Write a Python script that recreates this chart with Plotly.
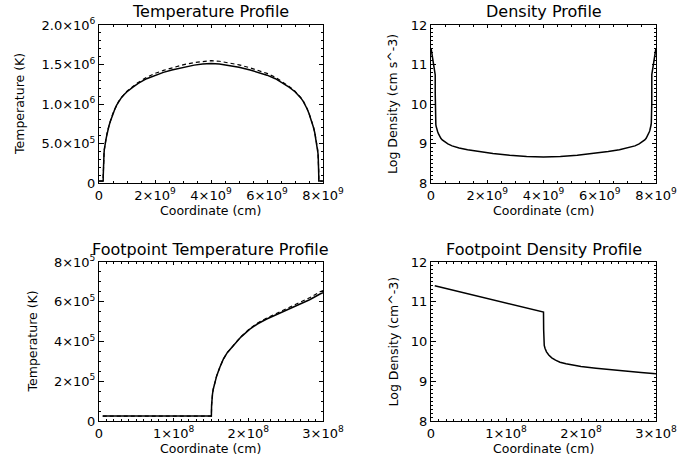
import plotly.graph_objects as go

# ---------------- data ----------------
# Full loop: coordinate in units of 1e9 cm, temperature in units of 1e6 K
loop_s_left = [0.005, 0.150, 0.1505, 0.151, 0.152, 0.153, 0.155, 0.1576, 0.162, 0.1665,
               0.172, 0.180, 0.190, 0.202, 0.2246, 0.247, 0.269, 0.296, 0.35, 0.40,
               0.45, 0.50, 0.57, 0.63, 0.70, 0.80, 0.90, 1.0, 1.2, 1.4,
               1.7, 2.0, 2.3, 2.6, 3.0, 3.4, 3.7, 4.0]
loop_s_right = [4.3, 4.6, 5.0, 5.4, 5.7, 6.0, 6.3, 6.6, 6.8, 7.0,
                7.1, 7.2, 7.3, 7.37, 7.43, 7.5, 7.55, 7.6, 7.65, 7.704,
                7.731, 7.753, 7.7754, 7.798, 7.81, 7.82, 7.828, 7.8335, 7.838, 7.8424,
                7.845, 7.847, 7.848, 7.849, 7.8495, 7.85, 7.995]
temp_solid_left = [0.025, 0.025, 0.08, 0.10, 0.135, 0.16, 0.195, 0.227, 0.272, 0.311,
                   0.345, 0.378, 0.422, 0.462, 0.513, 0.549, 0.588, 0.639, 0.715, 0.775,
                   0.83, 0.88, 0.94, 0.985, 1.03, 1.08, 1.12, 1.155, 1.21, 1.26,
                   1.32, 1.365, 1.40, 1.43, 1.465, 1.492, 1.506, 1.512]
temp_solid_right = [1.506, 1.492, 1.465, 1.43, 1.40, 1.365, 1.32, 1.26, 1.21, 1.155,
                    1.12, 1.08, 1.03, 0.985, 0.94, 0.88, 0.83, 0.775, 0.715, 0.639,
                    0.588, 0.549, 0.513, 0.462, 0.422, 0.378, 0.345, 0.311, 0.272, 0.227,
                    0.195, 0.16, 0.135, 0.10, 0.08, 0.025, 0.025]
temp_dashed_left = [0.025, 0.025, 0.08, 0.10, 0.135, 0.16, 0.195, 0.227, 0.272, 0.311,
                    0.345, 0.378, 0.422, 0.462, 0.52, 0.557, 0.597, 0.649, 0.722, 0.780,
                    0.834, 0.883, 0.943, 0.988, 1.033, 1.083, 1.124, 1.161, 1.22, 1.273,
                    1.338, 1.387, 1.425, 1.458, 1.496, 1.525, 1.541, 1.548]
temp_dashed_right = [1.541, 1.525, 1.496, 1.458, 1.425, 1.387, 1.338, 1.273, 1.22, 1.161,
                     1.124, 1.083, 1.033, 0.988, 0.943, 0.883, 0.834, 0.780, 0.722, 0.649,
                     0.597, 0.557, 0.52, 0.462, 0.422, 0.378, 0.345, 0.311, 0.272, 0.227,
                     0.195, 0.16, 0.135, 0.10, 0.08, 0.025, 0.025]

# Full loop density: coordinate in units of 1e9 cm, log10 density
dens_s_left = [0.005, 0.149, 0.150, 0.1502, 0.1505, 0.151, 0.152, 0.154, 0.157, 0.161,
               0.166, 0.172, 0.180, 0.190, 0.200, 0.220, 0.240, 0.263, 0.280, 0.300,
               0.35, 0.40, 0.50, 0.60, 0.75, 1.0, 1.3, 1.7, 2.2, 2.8, 3.4, 4.0]
dens_s_right = [4.6, 5.2, 5.8, 6.3, 6.7, 7.0, 7.25, 7.4, 7.5, 7.6,
                7.65, 7.70, 7.72, 7.737, 7.76, 7.78, 7.80, 7.81, 7.82, 7.828,
                7.834, 7.839, 7.843, 7.846, 7.848, 7.849, 7.8495, 7.8498, 7.850, 7.851, 7.995]
log_dens_left = [11.40, 10.745, 10.74, 10.3, 10.0, 9.9, 9.83, 9.74, 9.66, 9.59,
                 9.53, 9.48, 9.44, 9.40, 9.37, 9.33, 9.29, 9.25, 9.22, 9.19,
                 9.13, 9.09, 9.03, 8.99, 8.94, 8.885, 8.84, 8.795, 8.745, 8.70, 8.67, 8.66]
log_dens_right = [8.67, 8.70, 8.745, 8.795, 8.84, 8.885, 8.94, 8.99, 9.03, 9.09,
                  9.13, 9.19, 9.22, 9.25, 9.29, 9.33, 9.37, 9.40, 9.44, 9.48,
                  9.53, 9.59, 9.66, 9.74, 9.83, 9.9, 10.0, 10.3, 10.74, 10.745, 11.40]

# Footpoint: coordinate in units of 1e8 cm, temperature in units of 1e5 K
foot_s = [0.05, 1.505, 1.508, 1.51, 1.52, 1.53, 1.55, 1.576, 1.62, 1.665,
          1.72, 1.80, 1.90, 2.02, 2.12, 2.246, 2.36, 2.47, 2.58, 2.69,
          2.82, 2.96, 3.0]
foot_temp_solid = [0.25, 0.25, 0.8, 1.0, 1.35, 1.6, 1.95, 2.27, 2.72, 3.11,
                   3.45, 3.78, 4.22, 4.62, 4.88, 5.13, 5.32, 5.49, 5.68, 5.88,
                   6.1, 6.39, 6.45]
foot_temp_dashed = [0.25, 0.25, 0.8, 1.0, 1.35, 1.6, 1.95, 2.27, 2.72, 3.11,
                    3.45, 3.78, 4.24, 4.65, 4.92, 5.18, 5.38, 5.56, 5.76, 5.97,
                    6.2, 6.5, 6.56]
foot_dens_s = [0.05, 1.49, 1.50, 1.502, 1.505, 1.51, 1.52, 1.54, 1.57, 1.61,
               1.66, 1.72, 1.80, 1.90, 2.0, 2.2, 2.4, 2.63, 2.8, 3.0]
foot_log_dens = [11.40, 10.745, 10.74, 10.3, 10.0, 9.9, 9.83, 9.74, 9.66, 9.59,
                 9.53, 9.48, 9.44, 9.40, 9.37, 9.33, 9.29, 9.25, 9.22, 9.19]

# tick labels
loop_x_vals = [0, 2, 4, 6, 8]
loop_x_text = ["0", "2×10<sup>9</sup>", "4×10<sup>9</sup>", "6×10<sup>9</sup>", "8×10<sup>9</sup>"]
temp_y_vals = [0, 0.5, 1.0, 1.5, 2.0]
temp_y_text = ["0", "5.0×10<sup>5</sup>", "1.0×10<sup>6</sup>", "1.5×10<sup>6</sup>", "2.0×10<sup>6</sup>"]
dens_y_vals = [8, 9, 10, 11, 12]
dens_y_text = ["8", "9", "10", "11", "12"]
foot_x_vals = [0, 1, 2, 3]
foot_x_text = ["0", "1×10<sup>8</sup>", "2×10<sup>8</sup>", "3×10<sup>8</sup>"]
ftemp_y_vals = [0, 2, 4, 6, 8]
ftemp_y_text = ["0", "2×10<sup>5</sup>", "4×10<sup>5</sup>", "6×10<sup>5</sup>", "8×10<sup>5</sup>"]

titles = ["Temperature Profile", "Density Profile",
          "Footpoint Temperature Profile", "Footpoint Density Profile"]
x_title = "Coordinate (cm)"
y_titles = ["Temperature (K)", "Log Density (cm s^-3)", "Temperature (K)", "Log Density (cm^-3)"]

# ---------------- figure ----------------
W, H = 691, 465
FONT = "DejaVu Sans"
fig = go.Figure()

solid = dict(color="black", width=1.5)
dashed = dict(color="black", width=1.2, dash="4px,3px")

loop_s = loop_s_left + loop_s_right
dens_s = dens_s_left + dens_s_right
fig.add_trace(go.Scatter(x=loop_s, y=temp_dashed_left + temp_dashed_right, mode="lines", line=dashed,
                         xaxis="x", yaxis="y"))
fig.add_trace(go.Scatter(x=loop_s, y=temp_solid_left + temp_solid_right, mode="lines", line=solid,
                         xaxis="x", yaxis="y"))
fig.add_trace(go.Scatter(x=dens_s, y=log_dens_left + log_dens_right, mode="lines", line=solid,
                         xaxis="x2", yaxis="y2"))
fig.add_trace(go.Scatter(x=foot_s, y=foot_temp_dashed, mode="lines", line=dashed, xaxis="x3", yaxis="y3"))
fig.add_trace(go.Scatter(x=foot_s, y=foot_temp_solid, mode="lines", line=solid, xaxis="x3", yaxis="y3"))
fig.add_trace(go.Scatter(x=foot_dens_s, y=foot_log_dens, mode="lines", line=solid, xaxis="x4", yaxis="y4"))

# pixel boxes: (left, right, top, bottom)
boxes = [(99, 323, 25, 183), (431, 656, 25, 183), (99, 323, 262, 421), (431, 656, 262, 421)]


def ax_common(tickvals, ticktext, rng, minor_dtick, ticklen):
    return dict(range=rng, tickmode="array", tickvals=tickvals, ticktext=ticktext, automargin=False,
                showgrid=False, zeroline=False, showline=True, linecolor="black", linewidth=1,
                mirror="ticks", ticks="inside", ticklen=ticklen, tickwidth=1, tickcolor="black",
                minor=dict(ticks="inside", dtick=minor_dtick, tick0=0, ticklen=ticklen / 2,
                           tickwidth=1, tickcolor="black", showgrid=False),
                tickfont=dict(family=FONT, size=13, color="black"))


xspecs = [(loop_x_vals, loop_x_text, [0, 8], 0.5),
          (loop_x_vals, loop_x_text, [0, 8], 0.5),
          (foot_x_vals, foot_x_text, [0, 3], 0.1),
          (foot_x_vals, foot_x_text, [0, 3], 0.1)]
yspecs = [(temp_y_vals, temp_y_text, [0, 2], 0.1),
          (dens_y_vals, dens_y_text, [8, 12], 0.1),
          (ftemp_y_vals, ftemp_y_text, [0, 8], 0.5),
          (dens_y_vals, dens_y_text, [8, 12], 0.1)]

layout = {}
annotations = []
for i, (l, r, t, b) in enumerate(boxes):
    n = "" if i == 0 else str(i + 1)
    xd = [l / W, r / W]
    yd = [1 - b / H, 1 - t / H]
    xv, xt, xr, xm = xspecs[i]
    yv, yt, yr, ym = yspecs[i]
    xa = ax_common(xv, xt, xr, xm, 3.2)
    xa.update(domain=xd, anchor="y" + n)
    ya = ax_common(yv, yt, yr, ym, 4.5)
    ya.update(domain=yd, anchor="x" + n)
    layout["xaxis" + n] = xa
    layout["yaxis" + n] = ya
    cx = (l + r) / 2
    annotations.append(dict(text=titles[i], x=cx / W, y=1 - (t - 13) / H, xref="paper", yref="paper",
                            showarrow=False, xanchor="center", yanchor="middle",
                            font=dict(family=FONT, size=16, color="black")))
    annotations.append(dict(text=x_title, x=cx / W, y=1 - (b + 27) / H, xref="paper", yref="paper",
                            showarrow=False, xanchor="center", yanchor="middle",
                            font=dict(family=FONT, size=12.5, color="black")))
    yx = [20, 393, 32, 393][i]
    annotations.append(dict(text=y_titles[i], x=yx / W, y=1 - ((t + b) / 2) / H, xref="paper", yref="paper",
                            showarrow=False, xanchor="center", yanchor="middle", textangle=-90,
                            font=dict(family=FONT, size=12.5, color="black")))

fig.update_layout(width=W, height=H, margin=dict(l=0, r=0, t=0, b=0),
                  paper_bgcolor="white", plot_bgcolor="white", showlegend=False,
                  annotations=annotations, **layout)

fig.write_html("out.html", config={"displayModeBar": False},
               post_script="document.body.style.margin='0';document.body.style.padding='0';")
